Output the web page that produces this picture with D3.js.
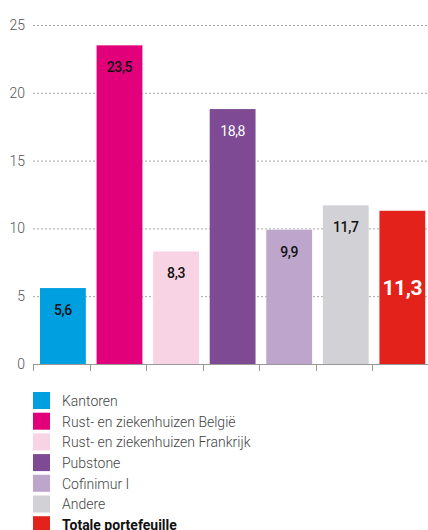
<!DOCTYPE html>
<html>
<head>
<meta charset="utf-8">
<script src="https://cdn.jsdelivr.net/npm/d3@7"></script>
<style>
  body { margin: 0; background: #fff; }
  svg { display: block; font-family: Roboto, "Noto Sans", sans-serif; }
</style>
</head>
<body>
<div id="chart"></div>
<script>
// data
var categories = ["Kantoren", "Rust- en ziekenhuizen België", "Rust- en ziekenhuizen Frankrijk",
                  "Pubstone", "Cofinimur I", "Andere", "Totale portefeuille"];
var values = [5.6, 23.5, 8.3, 18.8, 9.9, 11.7, 11.3];
var labels = ["5,6", "23,5", "8,3", "18,8", "9,9", "11,7", "11,3"];
var colors = ["#009fe0", "#e2007a", "#f7d3e4", "#7d4a93", "#bda5cc", "#d2d1d6", "#e3221b"];
var labelColors = ["#111", "#111", "#111", "#fff", "#111", "#111", "#fff"];
var yTicks = [0, 5, 10, 15, 20, 25];

var width = 428, height = 530;

var x = d3.scaleBand().domain(categories).range([33, 429]).padding(0);
var y = d3.scaleLinear().domain([0, 25]).range([364, 25]);

var svg = d3.select("#chart").append("svg")
    .attr("width", width)
    .attr("height", height);

// dotted grid lines + tick labels
var grid = svg.append("g");
grid.selectAll("line")
    .data(yTicks.filter(function(d) { return d > 0; }))
    .enter().append("line")
    .attr("x1", 33).attr("x2", width)
    .attr("y1", function(d) { return y(d) + 0.5; })
    .attr("y2", function(d) { return y(d) + 0.5; })
    .attr("stroke", "#a8a8a8")
    .attr("stroke-dasharray", "2,2");

grid.selectAll("text")
    .data(yTicks)
    .enter().append("text")
    .attr("x", 25)
    .attr("y", function(d) { return y(d); })
    .attr("dy", "0.35em")
    .attr("text-anchor", "end")
    .attr("font-size", 14)
    .attr("font-weight", 300)
    .attr("fill", "#555")
    .text(function(d) { return d; });

// bars
var bw = x.bandwidth() * 0.81;
svg.append("g").selectAll("rect")
    .data(values)
    .enter().append("rect")
    .attr("x", function(d, i) { return x(categories[i]) + 7; })
    .attr("y", function(d) { return y(d); })
    .attr("width", bw)
    .attr("height", function(d) { return y(0) - y(d); })
    .attr("fill", function(d, i) { return colors[i]; });

// value labels
svg.append("g").selectAll("text")
    .data(values)
    .enter().append("text")
    .attr("x", function(d, i) { return x(categories[i]) + 7 + bw / 2; })
    .attr("y", function(d, i) {
        if (i === 6) return (y(d) + y(0)) / 2;
        return y(d) + 22;
    })
    .attr("dy", "0.35em")
    .attr("text-anchor", "middle")
    .attr("font-size", function(d, i) { return i === 6 ? 21 : 14; })
    .attr("font-weight", function(d, i) { return i === 6 ? 700 : (i === 3 ? 400 : 500); })
    .attr("letter-spacing", -0.4)
    .attr("fill", function(d, i) { return labelColors[i]; })
    .text(function(d, i) { return labels[i]; });

// baseline axis with ticks between bars
var axis = svg.append("g");
axis.append("line")
    .attr("x1", 33).attr("x2", width)
    .attr("y1", y(0) + 0.5).attr("y2", y(0) + 0.5)
    .attr("stroke", "#999");
axis.selectAll("line.tick")
    .data(categories)
    .enter().append("line")
    .attr("class", "tick")
    .attr("x1", function(d) { return Math.round(x(d)) + 0.5; })
    .attr("x2", function(d) { return Math.round(x(d)) + 0.5; })
    .attr("y1", y(0)).attr("y2", y(0) + 7)
    .attr("stroke", "#999");

// legend
var legend = svg.append("g").selectAll("g")
    .data(categories)
    .enter().append("g")
    .attr("transform", function(d, i) { return "translate(33," + (392 + i * 20.7) + ")"; });

legend.append("rect")
    .attr("width", 17)
    .attr("height", 17)
    .attr("fill", function(d, i) { return colors[i]; });

legend.append("text")
    .attr("x", 29)
    .attr("y", 9)
    .attr("dy", "0.35em")
    .attr("font-size", 14)
    .attr("font-weight", function(d, i) { return i === 6 ? 700 : 300; })
    .attr("fill", function(d, i) { return i === 6 ? "#111" : "#444"; })
    .text(function(d) { return d; });
</script>
</body>
</html>
